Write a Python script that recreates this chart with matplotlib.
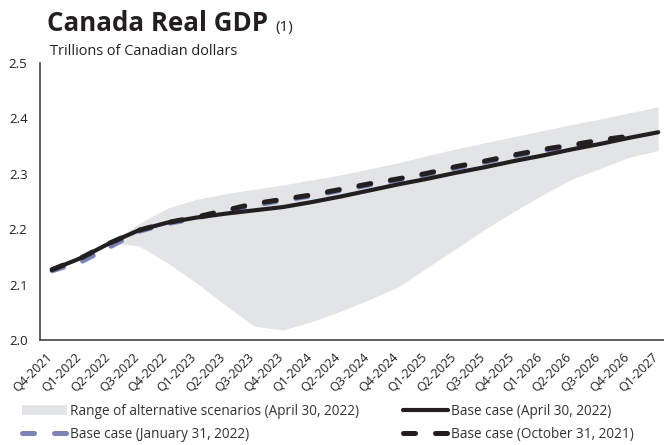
import matplotlib
matplotlib.use('Agg')
import matplotlib.pyplot as plt
import matplotlib.transforms as mtransforms
import numpy as np

plt.rcParams['font.family'] = ['Open Sans', 'DejaVu Sans']

# quarters on the x axis
quarters = ['Q4-2021', 'Q1-2022', 'Q2-2022', 'Q3-2022', 'Q4-2022', 'Q1-2023', 'Q2-2023',
            'Q3-2023', 'Q4-2023', 'Q1-2024', 'Q2-2024', 'Q3-2024', 'Q4-2024', 'Q1-2025',
            'Q2-2025', 'Q3-2025', 'Q4-2025', 'Q1-2026', 'Q2-2026', 'Q3-2026', 'Q4-2026',
            'Q1-2027']

nan = np.nan
# range of alternative scenarios (April 30, 2022)
range_low = [nan, nan, 2.175, 2.170, 2.139, 2.103, 2.063, 2.025, 2.018, 2.033, 2.052,
             2.073, 2.096, 2.131, 2.165, 2.200, 2.232, 2.262, 2.290, 2.310, 2.330, 2.342]
range_high = [nan, nan, 2.175, 2.210, 2.238, 2.254, 2.264, 2.272, 2.280, 2.289, 2.298,
              2.309, 2.320, 2.333, 2.345, 2.356, 2.367, 2.378, 2.389, 2.399, 2.410, 2.421]

# base cases
base_apr22 = [2.127, 2.148, 2.175, 2.198, 2.212, 2.221, 2.228, 2.234, 2.240, 2.249, 2.259,
              2.270, 2.281, 2.291, 2.302, 2.312, 2.323, 2.333, 2.344, 2.354, 2.365, 2.375]
base_jan22 = [2.125, 2.141, 2.168, 2.196, 2.210, 2.220, 2.232, 2.243, 2.252, 2.260, 2.270,
              2.280, 2.289, 2.299, 2.311, 2.321, 2.332, 2.342, 2.350, 2.359, 2.366, nan]
base_oct21 = [2.127, 2.148, 2.175, 2.198, 2.212, 2.222, 2.234, 2.246, 2.254, 2.262, 2.272,
              2.282, 2.291, 2.301, 2.313, 2.323, 2.334, 2.344, 2.352, 2.361, 2.368, nan]

ytick_vals = [2.0, 2.1, 2.2, 2.3, 2.4, 2.5]

dark = '#231f20'
grey = '#e3e4e6'
blue = '#7b83b8'

W, H = 664, 445
fig = plt.figure(figsize=(W/100, H/100), dpi=100)
ax = fig.add_axes([40/W, 1 - 340/H, 624/W, 277/H])
renderer = fig.canvas.get_renderer()


def fit_size(txt, width_px):
    # scale a text's font size so that it spans width_px pixels
    w = txt.get_window_extent(renderer).width
    txt.set_fontsize(txt.get_fontsize() * width_px / w)
    return txt


x = np.arange(len(quarters))

ax.fill_between(x, range_low, range_high, color=grey, linewidth=0, zorder=1,
                label='Range of alternative scenarios (April 30, 2022)')
ax.plot(x, base_jan22, color=blue, linewidth=3.6, dashes=(2.4, 4.0),
        dash_capstyle='round', zorder=2, label='Base case (January 31, 2022)')
ax.plot(x, base_oct21, color=dark, linewidth=3.6, dashes=(2.4, 4.0),
        dash_capstyle='round', zorder=3, label='Base case (October 31, 2021)')
ax.plot(x, base_apr22, color=dark, linewidth=3.0, solid_capstyle='round',
        zorder=4, label='Base case (April 30, 2022)')

ax.set_xlim(-0.42, 21.2)
ax.set_ylim(2.0, 2.5)
ax.set_yticks(ytick_vals)
ax.set_yticklabels(['%.1f' % v for v in ytick_vals])
ax.set_xticks(x)
ax.set_xticklabels(quarters, rotation=45, ha='right', va='center', rotation_mode='anchor')
ax.tick_params(axis='both', length=0, labelsize=9, colors=dark)
ax.tick_params(axis='y', pad=9, labelsize=9.5)
ax.tick_params(axis='x', pad=11)
shift = mtransforms.ScaledTranslation(-2/100, 0, fig.dpi_scale_trans)
for lab in ax.get_xticklabels():
    lab.set_transform(lab.get_transform() + shift)

for s in ['top', 'right']:
    ax.spines[s].set_visible(False)
for s in ['left', 'bottom']:
    ax.spines[s].set_color('#444444')
    ax.spines[s].set_linewidth(1.2)

title = fig.text(47/W, 1 - 31/H, 'Canada Real GDP', fontsize=17, fontweight='bold',
                 color=dark, va='baseline')
fit_size(title, 220)
fig.text(275/W, 1 - 31/H, '(1)', fontsize=11, color=dark, va='baseline')
sub = fig.text(50/W, 1 - 55/H, 'Trillions of Canadian dollars', fontsize=9.5,
               color=dark, va='baseline')
fit_size(sub, 190)

# legend font sized from its longest entry
probe = fig.text(0, 0, 'Range of alternative scenarios (April 30, 2022)', fontsize=9)
fit_size(probe, 291)
leg_fs = probe.get_fontsize()
probe.remove()
fs_px = leg_fs * 100 / 72

handles, labels = ax.get_legend_handles_labels()
order = ['Range of alternative scenarios (April 30, 2022)', 'Base case (January 31, 2022)',
         'Base case (April 30, 2022)', 'Base case (October 31, 2021)']
hmap = dict(zip(labels, handles))
leg = fig.legend([hmap[k] for k in order], order, ncol=2, loc='upper left',
                 bbox_to_anchor=(22/W, 1 - 404/H), frameon=False, fontsize=leg_fs,
                 handlelength=45/fs_px, handletextpad=3/fs_px, columnspacing=44/fs_px,
                 labelspacing=8/fs_px, borderaxespad=0, borderpad=0)
for t in leg.get_texts():
    t.set_color('#333333')

fig.savefig('out.png', dpi=100)
